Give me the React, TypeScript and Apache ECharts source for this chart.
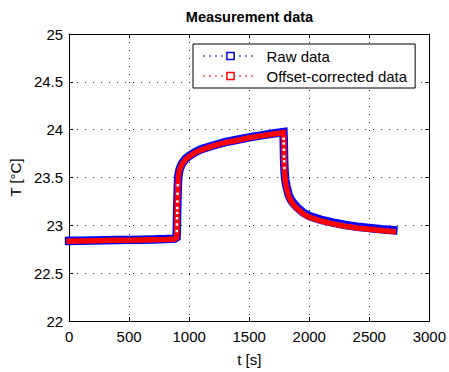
import React, { useEffect, useRef } from "react";
import * as echarts from "echarts";

const timeS = [
  0, 100, 200, 300, 400, 500, 600, 700, 800, 880, 895, 897, 898, 899, 900, 901, 902, 904, 906, 910, 920, 940, 970,
  1000, 1050, 1100, 1200, 1300, 1400, 1500, 1600, 1700, 1785, 1787, 1788, 1789, 1790, 1791, 1793, 1796, 1800, 1810,
  1830, 1850, 1870, 1900, 1950, 2000, 2100, 2200, 2300, 2400, 2500, 2600, 2700,
];

const correctedT = [
  22.835, 22.837, 22.839, 22.841, 22.843, 22.845, 22.847, 22.85, 22.853, 22.858, 22.87, 22.94, 23.01, 23.075, 23.13,
  23.18, 23.25, 23.33, 23.42, 23.51, 23.58, 23.64, 23.69, 23.72, 23.76, 23.79, 23.83, 23.865, 23.89, 23.915, 23.935,
  23.955, 23.97, 23.905, 23.855, 23.79, 23.72, 23.67, 23.6, 23.53, 23.47, 23.4, 23.3, 23.25, 23.215, 23.175, 23.12,
  23.085, 23.045, 23.015, 22.99, 22.972, 22.958, 22.945, 22.935,
];

const rawT = [
  22.838, 22.84, 22.842, 22.844, 22.846, 22.848, 22.85, 22.853, 22.856, 22.861, 22.873, 22.945, 23.015, 23.08, 23.135,
  23.185, 23.255, 23.335, 23.425, 23.515, 23.585, 23.645, 23.695, 23.725, 23.765, 23.795, 23.835, 23.87, 23.895,
  23.92, 23.94, 23.96, 23.975, 23.91, 23.86, 23.795, 23.725, 23.675, 23.605, 23.54, 23.48, 23.41, 23.312, 23.263,
  23.228, 23.188, 23.133, 23.098, 23.058, 23.028, 23.004, 22.986, 22.972, 22.959, 22.949,
];

const xTicks = [0, 500, 1000, 1500, 2000, 2500, 3000];
const yTicks = [22, 22.5, 23, 23.5, 24, 24.5, 25];

const seriesNames = ["Raw data", "Offset-corrected data"];

const FONT = "'Liberation Sans', Arial, Helvetica, sans-serif";

export default function App() {
  const ref = useRef<HTMLDivElement>(null);

  useEffect(() => {
    if (!ref.current) return;
    const chart = echarts.init(ref.current, undefined, { renderer: "svg" });

    const isSteep = (vals: number[], i: number) =>
      i > 0 && Math.abs(vals[i] - vals[i - 1]) / (timeS[i] - timeS[i - 1]) >= 0.03;

    const rawPoints = timeS.map((t, i) => ({ value: [t, rawT[i]], symbol: "none" }));
    const corrPoints = timeS.map((t, i) => ({
      value: [t, correctedT[i]],
      symbol: isSteep(correctedT, i) ? "rect" : "none",
    }));

    const xMin = xTicks[0];
    const xMax = xTicks[xTicks.length - 1];
    const xInt = xTicks[1] - xTicks[0];
    const yMin = yTicks[0];
    const yMax = yTicks[yTicks.length - 1];
    const yInt = yTicks[1] - yTicks[0];

    const axisLine = { show: true, onZero: false, lineStyle: { color: "#000", width: 1 } };
    const axisTick = { show: true, inside: true, length: 4, lineStyle: { color: "#000", width: 1 } };
    const split = { show: true, lineStyle: { color: "#222", width: 1, type: [1, 7] as any } };
    const labelStyle = { color: "#000", fontSize: 15, fontFamily: FONT };
    const fmt = (v: number) => String(v);

    chart.setOption({
      animation: false,
      backgroundColor: "#fff",
      grid: { left: 68, right: 18, top: 34, bottom: 43 },
      graphic: [
        {
          type: "text",
          x: 249.5,
          y: 17,
          style: {
            text: "Measurement data",
            align: "center",
            verticalAlign: "middle",
            fontSize: 14.5,
            fontWeight: "bold",
            fontFamily: FONT,
            fill: "#000",
          },
        },
      ],
      legend: {
        orient: "vertical",
        left: 193,
        top: 44,
        padding: [4.5, 8, 4.5, 10],
        itemGap: 5,
        itemWidth: 54,
        itemHeight: 9,
        selectedMode: false,
        backgroundColor: "#fff",
        borderColor: "#000",
        borderWidth: 1,
        borderRadius: 0,
        textStyle: { ...labelStyle, lineHeight: 15, padding: [0, 0, 0, 4] },
        lineStyle: { width: 1, type: [1, 5] as any },
        data: [
          { name: seriesNames[0], itemStyle: { color: "#fff", borderColor: "#0000ff", borderWidth: 1.5 } },
          { name: seriesNames[1], itemStyle: { color: "#fff", borderColor: "#ff0000", borderWidth: 1.5 } },
        ],
      },
      xAxis: [
        {
          type: "value",
          position: "bottom",
          min: xMin,
          max: xMax,
          interval: xInt,
          axisLine,
          axisTick,
          axisLabel: { ...labelStyle, margin: 8, formatter: fmt },
          splitLine: split,
          name: "t [s]",
          nameLocation: "middle",
          nameGap: 31,
          nameTextStyle: labelStyle,
        },
        {
          type: "value",
          position: "top",
          min: xMin,
          max: xMax,
          interval: xInt,
          axisLine,
          axisTick,
          axisLabel: { show: false },
          splitLine: { show: false },
        },
      ],
      yAxis: [
        {
          type: "value",
          position: "left",
          min: yMin,
          max: yMax,
          interval: yInt,
          axisLine,
          axisTick,
          axisLabel: { ...labelStyle, margin: 6, formatter: fmt },
          splitLine: split,
          name: "T [°C]",
          nameLocation: "middle",
          nameGap: 43,
          nameTextStyle: labelStyle,
        },
        {
          type: "value",
          position: "right",
          min: yMin,
          max: yMax,
          interval: yInt,
          axisLine,
          axisTick,
          axisLabel: { show: false },
          splitLine: { show: false },
        },
      ],
      series: [
        {
          name: seriesNames[0],
          type: "line",
          data: rawPoints,
          symbol: "rect",
          symbolSize: 8,
          showSymbol: true,
          showAllSymbol: true,
          clip: false,
          lineStyle: { color: "#0000ff", width: 8.5, cap: "square", join: "miter" },
          itemStyle: { color: "#fff", borderColor: "#0000ff", borderWidth: 1.5 },
          emphasis: { disabled: true },
          z: 2,
        },
        {
          name: seriesNames[1],
          type: "line",
          data: corrPoints,
          symbol: "rect",
          symbolSize: 4,
          showSymbol: true,
          showAllSymbol: true,
          clip: false,
          lineStyle: { color: "#ff0000", width: 5.5, cap: "square", join: "miter" },
          itemStyle: { color: "#fff", borderColor: "#ff0000", borderWidth: 1.5 },
          emphasis: { disabled: true },
          z: 3,
        },
      ],
    });

    return () => chart.dispose();
  }, []);

  return (
    <div
      ref={ref}
      style={{ position: "fixed", left: 0, top: 0, width: 449, height: 372, background: "#fff" }}
    />
  );
}
